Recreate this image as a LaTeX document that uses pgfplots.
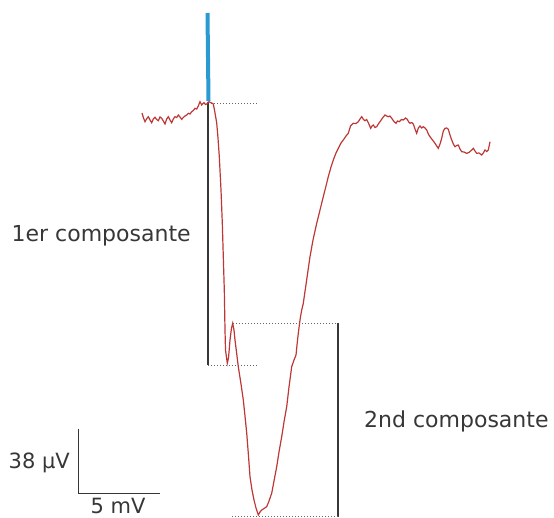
\documentclass[border=0pt]{standalone}
\usepackage{pgfplots}
\pgfplotsset{compat=1.18}
\usepackage{fontspec}
\setmainfont{DejaVu Sans}
\definecolor{trace}{RGB}{190,55,55}
\definecolor{stim}{RGB}{43,154,210}
\definecolor{dark}{RGB}{55,55,55}
\begin{document}
\begin{tikzpicture}
\path[use as bounding box] (0,0) rectangle (554pt,517pt);
\clip (0,0) rectangle (554pt,517pt);
\begin{axis}[
  at={(0,0)}, anchor=south west,
  scale only axis, width=554pt, height=517pt,
  xmin=0, xmax=554, ymin=0, ymax=517, y dir=reverse,
  hide axis, clip=false,
]
% stimulus artefact
\addplot[stim, line width=4pt] coordinates {(207.5,13) (208.5,101)};
% first component bar
\addplot[dark, line width=1.8pt] coordinates {(208.3,102) (208.3,365)};
\addplot[gray!80!black, dotted, line width=1pt] coordinates {(211,103.5) (257,103.5)};
\addplot[gray!80!black, dotted, line width=1pt] coordinates {(208,365.5) (257,365.5)};
% second component bar
\addplot[gray!80!black, dotted, line width=1pt] coordinates {(233,323.3) (338,323.3)};
\addplot[dark, line width=1.8pt] coordinates {(338.3,323.3) (338.3,517)};
\addplot[gray!80!black, dotted, line width=1pt] coordinates {(232,516) (338,516)};
% scale bar
\addplot[dark, line width=1.5pt] coordinates {(78.3,429) (78.3,493.3) (160,493.3)};
% trace
\addplot[trace, line width=1.2pt] coordinates {
(142,113) (143.5,118) (145,121.7) (146.5,119) (148.3,116.7) (150,120) (151.7,122.7) (153.3,119) (155,117.3)
(156.7,119.5) (158.3,120.7) (160,117) (161.7,118.3) (163.3,121) (165,124) (166.7,119) (168.3,116.7) (170,120)
(171.7,122.7) (173.3,119) (175,116.7) (176.7,117.5) (178.3,115) (180,117) (181.7,119.3) (183.3,117.5) (185,116)
(186.7,115) (188.3,113.3) (190,114) (191.7,111.7) (193.3,110.5) (195,108.3) (196.7,109) (198.3,106) (200,101.7)
(201.7,105) (203,103.5) (204,102.7) (205.5,104.5) (206.7,104) (208,102.5) (209,101.7) (210.5,102.5) (211.7,103)
(213.3,104) (214.5,110) (216.7,123) (218,138) (219.3,156.7) (221,190) (222.3,223) (223.3,256.7) (224.3,290)
(225,330) (225.5,350) (227.3,363.3) (228.5,358) (230,340) (231.5,328) (232.7,323.3) (234,330) (235,340)
(236.5,352) (238.3,366.7) (241,384) (243.3,400) (245,416) (246.7,433) (248.5,456) (250,476.7) (252,490)
(254,500) (256,508) (258.3,515) (260,512) (261.7,510) (264,508.5) (266.7,506.7) (269,501) (271.7,493.3)
(274,481) (276.7,466.7) (279,452) (281.7,436.7) (284,422) (286.7,406.7) (289,387) (291.7,366.7) (294,360)
(296,355) (297,345) (298.3,333.3) (300,320) (301.5,311) (303.3,303.3) (306.5,281) (310,256.7) (313,240)
(316.7,223.3) (320,210) (323.3,196.7) (326,186) (328.3,176.7) (331,167) (333.3,160) (336,153) (338.3,148.3)
(341,143) (343.3,140) (346,136) (348.3,133.3) (350.5,126) (353.3,123.3) (356,123.5) (358.3,121.7) (360,119)
(361.7,116.7) (363.5,119.5) (365,120.7) (366.7,119.5) (368.3,122.7) (370.7,128.3) (372,126) (373.3,125)
(375,127.5) (376.7,126.7) (378.3,124) (380,121.7) (382.5,118) (385,115) (386.7,116) (388.3,116.7) (390,116)
(391.7,118.3) (394,121.5) (396,123.3) (397.5,121) (399.3,121.7) (401.5,119.5) (403.3,120) (405.5,118)
(407.3,119.3) (408.7,122) (410,123.3) (411.7,122.5) (413.3,124) (415,129) (416.7,133.3) (418.3,128) (420,126)
(421.7,128) (423.3,126.7) (425,128) (426.7,130) (428.3,134) (430,136.7) (432.5,140) (435,143.3) (436.7,146)
(438.3,148.3) (440,144) (441.7,138.3) (443.3,131) (445,128.3) (446.7,128) (448.3,129.3) (450,135) (451.7,140)
(453.3,144) (455,146.7) (456.7,145.5) (458.3,145) (460,149) (461.7,151.7) (464,152) (466.7,153.3) (469,152.5)
(471.7,150) (473.3,148.3) (475,151) (476.7,153.3) (479,153) (481.7,155) (483.3,153) (485,150) (486.7,151.5)
(488.3,150) (490,141.7)
};
\node[anchor=base west, font=\fontsize{22}{26}\selectfont, text=dark, inner sep=0pt] at (axis cs:11.5,241) {1er composante};
\node[anchor=base west, font=\fontsize{22}{26}\selectfont, text=dark, inner sep=0pt] at (axis cs:364,427) {2nd composante};
\node[anchor=base east, font=\fontsize{21}{24}\selectfont, text=dark, inner sep=0pt] at (axis cs:70,468) {38 µV};
\node[anchor=base, font=\fontsize{21}{24}\selectfont, text=dark, inner sep=0pt] at (axis cs:118,513) {5 mV};
\end{axis}
\end{tikzpicture}
\end{document}
